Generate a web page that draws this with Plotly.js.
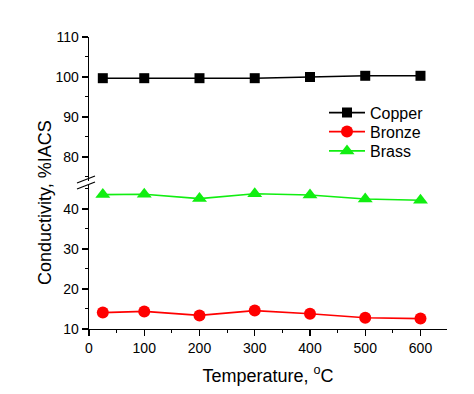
<!DOCTYPE html>
<html>
<head>
<meta charset="utf-8">
<script src="https://cdn.plot.ly/plotly-3.0.1.min.js"></script>
<style>html,body{margin:0;padding:0;background:#fff;}#chart{width:474px;height:394px;}</style>
</head>
<body>
<div id="chart"></div>
<script>
const temperature = [25, 100, 200, 300, 400, 500, 600];
const copper = [99.7, 99.7, 99.7, 99.7, 100.0, 100.3, 100.3];
const bronze = [14.1, 14.4, 13.4, 14.6, 13.8, 12.8, 12.6];
const brass = [43.6, 43.7, 42.6, 43.8, 43.5, 42.5, 42.2];
const seriesNames = ["Copper", "Bronze", "Brass"];
const xTicks = [0, 100, 200, 300, 400, 500, 600];
const yLowTicks = [10, 20, 30, 40];
const yHighTicks = [80, 90, 100, 110];

const font = "Arial, 'Liberation Sans', sans-serif";

const traces = [
  {x: temperature, y: copper, name: seriesNames[0], xaxis: 'x', yaxis: 'y2', mode: 'lines+markers', legend: 'legend',
   line: {color: '#000000', width: 1.6}, marker: {symbol: 'square', size: 10, color: '#000000'}},
  {x: temperature, y: bronze, name: seriesNames[1], xaxis: 'x', yaxis: 'y', mode: 'lines+markers', legend: 'legend2',
   line: {color: '#ff0000', width: 1.6}, marker: {symbol: 'circle', size: 12, color: '#ff0000'}},
  {x: temperature, y: brass, name: seriesNames[2], xaxis: 'x', yaxis: 'y', mode: 'lines+markers', legend: 'legend3',
   line: {color: '#11ee11', width: 1.6}, marker: {symbol: 'triangle-up', size: 13, color: '#11ee11'}}
];

const axCommon = {
  showline: true, linecolor: '#000', linewidth: 1.3, ticks: 'outside', ticklen: 6, tickwidth: 1.3,
  tickcolor: '#000', showgrid: false, zeroline: false, tickfont: {family: font, size: 14, color: '#000'},
  minor: {ticks: 'outside', ticklen: 3, tickwidth: 1, tickcolor: '#000', showgrid: false}
};

function legendAt(py) {
  return {x: (324 - 89) / 358, y: (329 - py) / 292, xanchor: 'left', yanchor: 'middle', bgcolor: 'rgba(0,0,0,0)',
          font: {family: font, size: 16, color: '#000'}, itemwidth: 36};
}

const layout = {
  width: 474, height: 394,
  margin: {l: 89, r: 27, t: 37, b: 65},
  paper_bgcolor: '#fff', plot_bgcolor: '#fff',
  showlegend: true,
  legend: legendAt(112.7),
  legend2: legendAt(131.7),
  legend3: legendAt(151),
  xaxis: Object.assign({}, axCommon, {
    range: [0, 648], tickvals: xTicks, anchor: 'y',
    minor: Object.assign({}, axCommon.minor, {dtick: 50, tick0: 0}),
    title: {text: 'Temperature, <sup>o</sup>C', font: {family: font, size: 18, color: '#000'}, standoff: 14}
  }),
  yaxis: Object.assign({}, axCommon, {
    domain: [0, 0.4932], range: [10, 46], tickvals: yLowTicks, anchor: 'x',
    minor: Object.assign({}, axCommon.minor, {dtick: 5, tick0: 0})
  }),
  yaxis2: Object.assign({}, axCommon, {
    domain: [0.507, 1], range: [74, 110], tickvals: yHighTicks, anchor: 'x',
    minor: Object.assign({}, axCommon.minor, {dtick: 5, tick0: 0})
  }),
  annotations: [
    {text: 'Conductivity, %IACS', xref: 'paper', yref: 'paper', x: (45 - 89) / 358, y: (329 - 203) / 292,
     xanchor: 'center', yanchor: 'middle', textangle: -90, showarrow: false,
     font: {family: font, size: 18, color: '#000'}}
  ],
  shapes: [
    {type: 'line', xref: 'paper', yref: 'paper', x0: -12/358, x1: 6/358, y0: (329-183)/292, y1: (329-176)/292, line: {color: '#000', width: 1.2}},
    {type: 'line', xref: 'paper', yref: 'paper', x0: -12/358, x1: 6/358, y0: (329-189)/292, y1: (329-182)/292, line: {color: '#000', width: 1.2}}
  ]
};

Plotly.newPlot('chart', traces, layout, {displayModeBar: false, staticPlot: true});
</script>
</body>
</html>
